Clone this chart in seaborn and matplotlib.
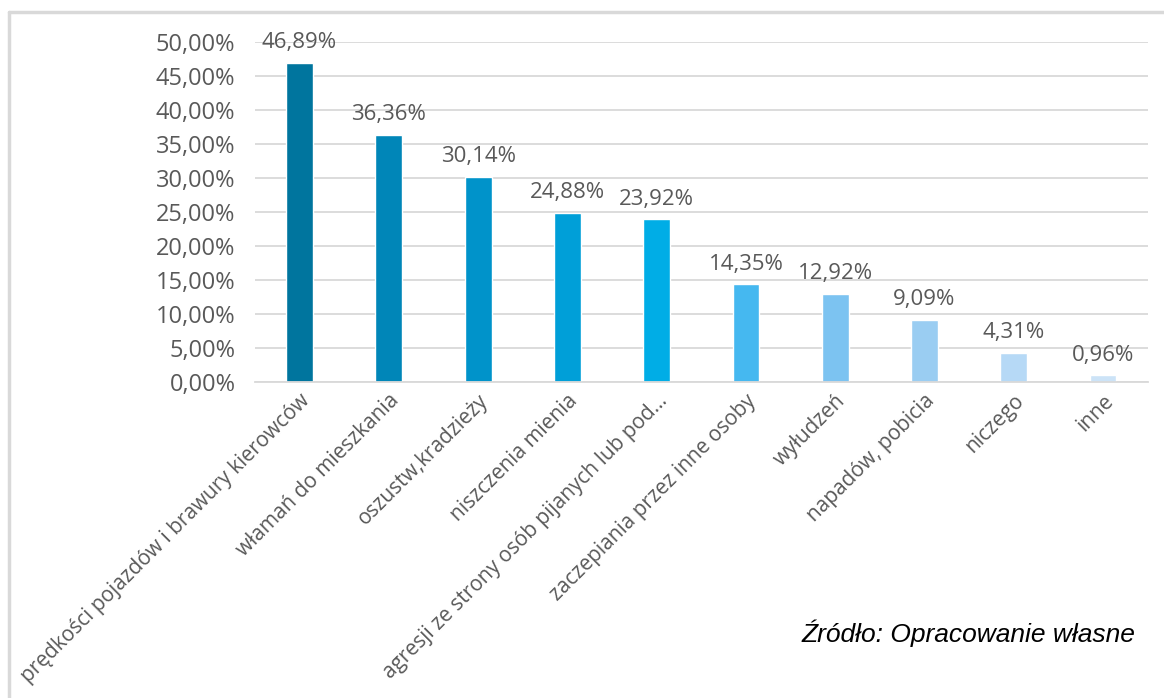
import pandas as pd
import matplotlib.pyplot as plt
import seaborn as sns
from matplotlib.lines import Line2D

# Data
categories = [
    "prędkości pojazdów i brawury kierowców",
    "włamań do mieszkania",
    "oszustw,kradzieży",
    "niszczenia mienia",
    "agresji ze strony osób pijanych lub pod…",
    "zaczepiania przez inne osoby",
    "wyłudzeń",
    "napadów, pobicia",
    "niczego",
    "inne",
]
values = [46.89, 36.36, 30.14, 24.88, 23.92, 14.35, 12.92, 9.09, 4.31, 0.96]
bar_colors = ["#00759E", "#0086B8", "#0093CA", "#009FD8", "#00ADE6",
              "#45B8F0", "#7CC3F1", "#9ACDF2", "#B6D9F6", "#CCE3F7"]
y_ticks = [0, 5, 10, 15, 20, 25, 30, 35, 40, 45, 50]

df = pd.DataFrame({"kategoria": categories, "wartosc": values})

sns.set_theme(style="white")
plt.rcParams["font.family"] = ["Open Sans", "DejaVu Sans"]

fig = plt.figure(figsize=(11.64, 6.98), dpi=100)
ax = fig.add_axes([0.219, 0.4527, 0.767, 0.4871])

sns.barplot(data=df, x="kategoria", y="wartosc", hue="kategoria",
            palette=bar_colors, width=0.3, legend=False, ax=ax,
            saturation=1)

ax.set_ylim(0, 50)
ax.set_yticks(y_ticks)
ax.set_yticklabels([f"{t:.2f}".replace(".", ",") + "%" for t in y_ticks],
                   fontsize=17, color="#595959")
ax.yaxis.grid(True, color="#D9D9D9", linewidth=1.3)
ax.set_axisbelow(True)
ax.tick_params(axis="y", length=0, pad=14)
ax.tick_params(axis="x", length=0, pad=6)
ax.set_xlabel("")
ax.set_ylabel("")
for side in ["top", "right", "left"]:
    ax.spines[side].set_visible(False)
ax.spines["bottom"].set_color("#D9D9D9")
ax.spines["bottom"].set_linewidth(1.3)

plt.setp(ax.get_xticklabels(), rotation=45, ha="right",
         rotation_mode="anchor", fontsize=15, color="#595959")

# value labels
for cont in ax.containers:
    ax.bar_label(cont, labels=[f"{v.get_height():.2f}".replace(".", ",") + "%" for v in cont],
                 padding=7, fontsize=16, color="#595959")

# source note
fig.text(0.975, 0.093, "Źródło: Opracowanie własne", ha="right", va="center",
         fontsize=19, style="italic", family=["Liberation Sans", "DejaVu Sans"],
         color="black")

# light frame (top and left)
fig.add_artist(Line2D([0.008, 1.0], [0.983, 0.983], color="#D9D9D9", lw=2.5))
fig.add_artist(Line2D([0.008, 0.008], [0.0, 0.983], color="#D9D9D9", lw=2.5))

plt.savefig("out.png", dpi=100)
